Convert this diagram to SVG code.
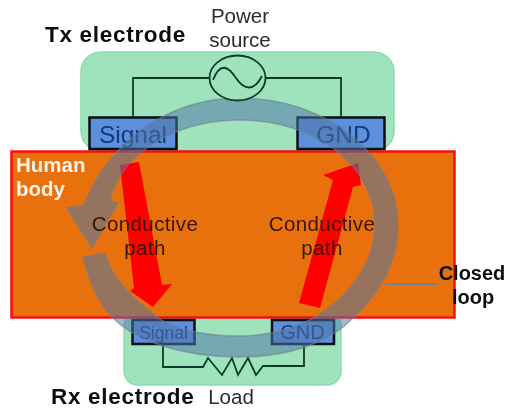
<svg xmlns="http://www.w3.org/2000/svg" width="506" height="411" viewBox="0 0 506 411">
<defs><filter id="soft" x="-5%" y="-5%" width="110%" height="110%"><feGaussianBlur stdDeviation="0.45"/></filter></defs>
<style>
text{font-family:"Liberation Sans","Noto Sans",sans-serif}
.pad{fill:#9fe3bd;stroke:#8ddbb0;stroke-width:1.5}
.el{fill:#5b8fdc;stroke:#0a0f14;stroke-width:2.5}
.wire{fill:none;stroke:#0f3b2a;stroke-width:1.8}
.red{fill:#fe0000}
.t{fill:#2a2a2a;font-size:20.500px;text-anchor:middle}
.h{fill:#111;font-size:22.500px;font-weight:700;letter-spacing:.7px}
.c{fill:#3a1405;font-size:20.500px;letter-spacing:.4px;text-anchor:middle}
.cl{fill:#111;font-size:20px;font-weight:700;text-anchor:middle}
.hb{fill:#fdf3e6;font-size:20.500px;font-weight:700}
.b{fill:#123a78;text-anchor:middle}
</style>
<rect width="506" height="411" fill="#fff"/>
<g filter="url(#soft)">
<g id="tx-pad"><rect class="pad" x="81" y="52" width="313" height="99" rx="20"/></g>
<g id="rx-pad"><rect class="pad" x="124" y="312" width="217" height="73" rx="14"/></g>
<g id="human-body"><rect x="11.500" y="151.500" width="443" height="166" fill="#e8710c" stroke="#fa1010" stroke-width="2.500"/>
<text class="hb" x="16" y="172">Human</text>
<text class="hb" x="16" y="196">body</text></g>
<g id="tx-signal"><rect class="el" x="89.500" y="117.500" width="87" height="31.500"/><text class="b" x="133" y="143" font-size="24.500">Signal</text></g>
<g id="tx-gnd"><rect class="el" x="297.500" y="117.500" width="87" height="31.500"/><text class="b" x="343.500" y="143" font-size="24.500">GND</text></g>
<g id="rx-signal"><rect class="el" x="132.500" y="320" width="62" height="24"/><text class="b" x="163.500" y="339" font-size="17.500">Signal</text></g>
<g id="rx-gnd"><rect class="el" x="272" y="320" width="62" height="24"/><text class="b" x="302.500" y="339" font-size="20">GND</text></g>
<g id="connectors">
<path class="wire" d="M133,117V78H209M266,78H341V117"/>
<path class="wire" d="M163,344V367H203L208,358L222,375L232,358L238,375L248,358L256,375L263,366H304V344"/>
<polygon class="red" points="120,165 139,162 162,285 172,284 153,307 130,291 134,288"/>
<polygon class="red" points="299,303 320,308 353,187 361,185 358,163 323,175 333,180"/>
<path d="M83,257C90,285 100,305 113,318C135,340 180,357 240,357C290,357 330,342 353,318C383,290 398,260 398,225C398,155 325,98 240,98C170,98 110,140 84,205L67,208L92,248L118,203L110,201C114,185 122,165 147,148C170,130 205,120 240,120C315,120 375,165 375,225C375,265 345,300 315,317C295,329 265,336 240,336C200,336 170,328 156,316C135,300 112,280 105,253Z" fill="#4d75a8" fill-opacity="0.53" stroke="#6f7f8c" stroke-opacity="0.6" stroke-width="1.500"/>
<path d="M385,284H437" stroke="#6f8296" stroke-width="2" fill="none"/>
</g>
<g id="power-source"><ellipse cx="237.500" cy="78" rx="28" ry="22.500" fill="#9fe3bd" stroke="#0f3b2a" stroke-width="1.800"/>
<path class="wire" d="M213,80C220,62 228,66 236,78C244,90 254,92 262,76"/>
<text class="t" x="240" y="23">Power</text><text class="t" x="240" y="47">source</text></g>
<g id="labels">
<text class="h" x="45" y="42">Tx electrode</text>
<text class="h" x="51" y="404">Rx electrode</text>
<text class="t" x="231" y="404">Load</text>
<text class="c" x="145" y="231">Conductive</text><text class="c" x="145" y="255">path</text>
<text class="c" x="322" y="231">Conductive</text><text class="c" x="322" y="255">path</text>
<text class="cl" x="472" y="280">Closed</text>
<text class="cl" x="473" y="304">loop</text>
</g>
</g>
</svg>
